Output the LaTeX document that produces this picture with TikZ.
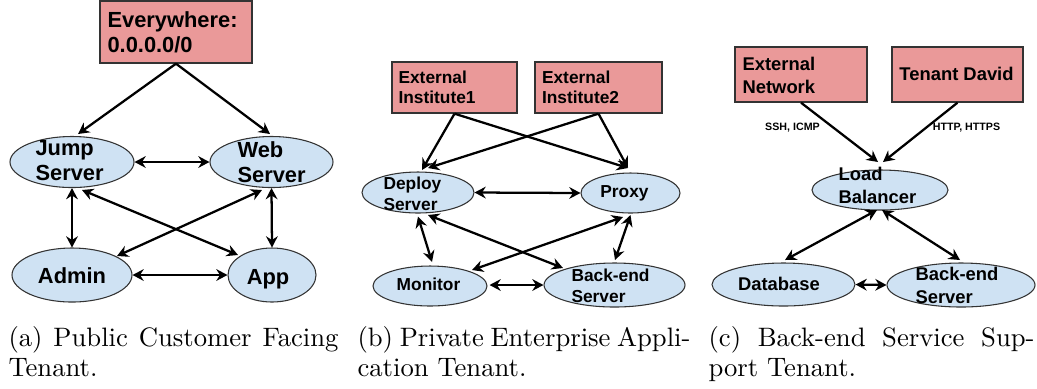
\documentclass[tikz,border=0pt]{standalone}
\usepackage{fontspec}
\newfontfamily\arialf{Liberation Sans}
\usetikzlibrary{shapes.geometric,arrows.meta,calc}
\definecolor{boxred}{RGB}{234,153,153}
\definecolor{ellblue}{RGB}{207,226,243}
\begin{document}
\begin{tikzpicture}[x=0.375pt,y=-0.375pt,
  hd/.tip={Stealth[length=4.2pt,width=4.4pt,inset=1.4pt]},
  one/.style={line width=0.85pt,-hd},
  two/.style={line width=0.85pt,hd-hd},
  src/.style={rectangle,draw=black!80,line width=0.5pt,fill=boxred,inner sep=0pt},
  ell/.style={ellipse,draw=black!80,line width=0.4pt,fill=ellblue,inner sep=0pt},
  txt/.style={inner sep=0pt,align=left},
  fa/.style={txt,font=\arialf\bfseries\fontsize{8.2}{9.4}\selectfont},
  fb/.style={txt,font=\arialf\bfseries\fontsize{6.5}{7.7}\selectfont},
  fc/.style={txt,font=\arialf\bfseries\fontsize{6.9}{8.6}\selectfont},
  fl/.style={txt,font=\arialf\bfseries\fontsize{4}{4.8}\selectfont},
  capt/.style={inner sep=0pt,anchor=base west,font=\fontsize{10}{11.6}\selectfont}]
\useasboundingbox (0,0) rectangle (1037,388);

% ---------- panel (a)
\node[src,minimum width=57pt,minimum height=23.25pt] (ev) at (176,32) {};
\node[fa,anchor=west] (evt) at (107,32) {Everywhere:\\0.0.0.0/0};
\node[ell,minimum width=46.5pt,minimum height=19.125pt] (jump) at (72,162) {};
\node[ell,minimum width=46.125pt,minimum height=19.125pt] (web) at (271.5,162) {};
\node[ell,minimum width=45pt,minimum height=20.25pt] (admin) at (72,275) {};
\node[ell,minimum width=33pt,minimum height=20.25pt] (app) at (272,275) {};
\node[fa,anchor=west] (jumpt) at (35,161) {Jump\\Server};
\node[fa,anchor=west] (webt) at (237,162) {Web\\Server};
\node[fa] (admint) at (72,276) {Admin};
\node[fa] (appt) at (268,279.5) {App};

\draw[one] (ev.south) -- ($(jump)+(6,-28)$);
\draw[one] (ev.south) -- ($(web)+(-1.5,-28)$);
\draw[two] (jump.east) -- (web.west);
\draw[two] (jump.south) -- (admin.north);
\draw[two] (web.south) -- (app.north);
\draw[two] ($(jump)+(10,28)$) -- ($(app)+(-34,-20)$);
\draw[two] ($(web)+(-9.5,28)$) -- ($(admin)+(45,-19)$);
\draw[two] (admin.east) -- (app.west);

% ---------- panel (b)
\node[src,minimum width=46.875pt,minimum height=19.125pt] (i1) at (454.5,87.5) {};
\node[src,minimum width=47.625pt,minimum height=19.125pt] (i2) at (598.5,87.5) {};
\node[fb,anchor=west] (i1t) at (398,87.5) {External\\Institute1};
\node[fb,anchor=west] (i2t) at (541.5,87.5) {External\\Institute2};
\node[ell,minimum width=42pt,minimum height=15.375pt] (deploy) at (418,192.5) {};
\node[ell,minimum width=37.125pt,minimum height=15pt] (proxy) at (630.5,193) {};
\node[ell,minimum width=42.75pt,minimum height=15pt] (monitor) at (430,286) {};
\node[ell,minimum width=52.875pt,minimum height=16.5pt] (backb) at (614.5,285) {};
\node[fb,anchor=west] (deployt) at (383,194) {Deploy\\Server};
\node[fb] (proxyt) at (624.5,193.6) {Proxy};
\node[fb] (monitort) at (428.5,284.5) {Monitor};
\node[fb,anchor=west] (backbt) at (571,286) {Back-end\\Server};

\draw[one] (i1.south) -- ($(deploy)+(4,-22.5)$);
\draw[one] (i1.south) -- ($(proxy)+(-2.5,-25)$);
\draw[one] (i2.south) -- ($(deploy)+(10,-24.5)$);
\draw[one] (i2.south) -- ($(proxy)+(-2.5,-25)$);
\draw[two] (deploy.east) -- (proxy.west);
\draw[two] ($(deploy)+(0,24)$) -- ($(monitor)+(2,-24)$);
\draw[two] ($(proxy)+(0,22)$) -- ($(backb)+(0.5,-25)$);
\draw[two] ($(deploy)+(10,22.5)$) -- ($(backb)+(-51.5,-17)$);
\draw[two] ($(proxy)+(-7.5,24)$) -- ($(monitor)+(42,-16)$);
\draw[two] ($(monitor.east)+(2,-1)$) -- (backb.west);

% ---------- panel (c)
\node[src,minimum width=49.5pt,minimum height=20.625pt] (en) at (801,74.5) {};
\node[src,minimum width=49.125pt,minimum height=20.625pt] (td) at (957.5,74.5) {};
\node[fc,anchor=west] (ent) at (742,75) {External\\Network};
\node[fc] (tdt) at (956.5,73.5) {Tenant David};
\node[ell,minimum width=51pt,minimum height=15pt] (lb) at (880,190) {};
\node[ell,minimum width=53.625pt,minimum height=16.125pt] (db) at (783.5,284.5) {};
\node[ell,minimum width=55.5pt,minimum height=16.5pt] (backc) at (961,285) {};
\node[fc,anchor=west] (lbt) at (838,185) {Load\\Balancer};
\node[fc] (dbt) at (779,284) {Database};
\node[fc,anchor=west] (backct) at (915,285) {Back-end\\Server};
\node[fl] (ssh) at (792.5,127.5) {SSH, ICMP};
\node[fl] (http) at (966.5,127.5) {HTTP, HTTPS};

\draw[one] (en.south) -- ($(lb)+(-2,-28)$);
\draw[one] (td.south) -- ($(lb)+(3,-28)$);
\draw[two] ($(lb)+(-3,20)$) -- ($(db)+(1.5,-24.5)$);
\draw[two] ($(lb)+(2,20)$) -- ($(backc)+(-1,-25)$);
\draw[two] (db.east) -- (backc.west);

% ---------- captions
\node[capt] (capa) at (8,346) {\parbox[t]{123.75pt}{\makebox[\linewidth][s]{(a) Public Customer Facing}\\Tenant.}};
\node[capt] (capb) at (357,346) {\parbox[t]{124.875pt}{\makebox[\linewidth][s]{(b) Private Enterprise Appli-}\\cation Tenant.}};
\node[capt] (capc) at (708,346) {\parbox[t]{122.25pt}{\makebox[\linewidth][s]{(c) Back-end Service Sup-}\\port Tenant.}};
\end{tikzpicture}
\end{document}
